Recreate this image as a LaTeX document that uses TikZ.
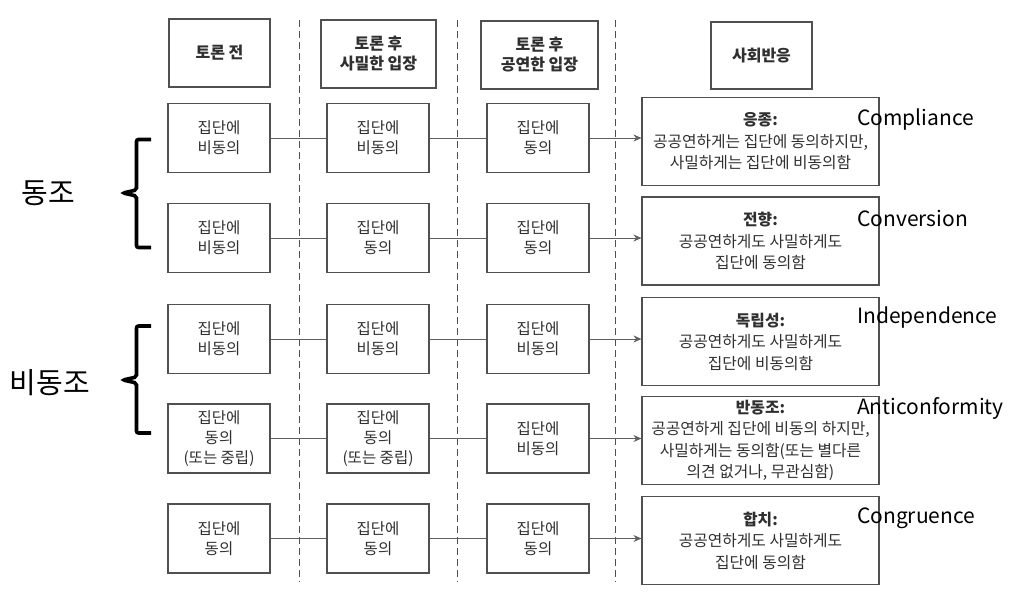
\documentclass[tikz,border=0pt]{standalone}
\usepackage{fontspec}
\setmainfont{Noto Sans CJK KR}
\usetikzlibrary{arrows.meta}
\definecolor{boxc}{HTML}{505050}
\definecolor{txt}{HTML}{303030}
\definecolor{linec}{HTML}{606060}
\begin{document}
\begin{tikzpicture}[x=1pt,y=-1pt,
  cell/.style={draw=boxc, line width=1.1pt, minimum width=102pt, minimum height=69pt,
    inner sep=0pt, align=center, text=txt, font=\fontsize{15.5}{20}\selectfont},
  head/.style={cell, font=\bfseries\fontsize{16}{20}\selectfont},
  resp/.style={draw=boxc, line width=1.1pt, minimum width=237pt, minimum height=88pt,
    inner sep=0pt, align=center, text=txt, font=\fontsize{15.8}{21.5}\selectfont},
  link/.style={draw=linec, line width=0.9pt},
  arrowlink/.style={link, -{Stealth[length=8pt,width=7pt]}},
  divider/.style={draw=boxc, line width=1pt, dash pattern=on 7pt off 4pt},
  eng/.style={anchor=west, font=\fontsize{21}{24}\selectfont, text=black, inner sep=0pt},
  grp/.style={font=\fontsize{29}{32}\selectfont, text=black, inner sep=0pt},
  brace/.style={draw=black, line width=3.6pt, rounded corners=2pt}
]
\useasboundingbox (0,0) rectangle (1011,592);
\fill[white] (0,0) rectangle (1011,592);

% dividers
\draw[divider] (299,20) -- (299,582);
\draw[divider] (457,20) -- (457,582);
\draw[divider] (615,20) -- (615,582);

% headers
\node[head, minimum width=101pt, minimum height=68pt] (h1) at (219.5,53) {토론 전};
\node[head, minimum width=115pt, minimum height=68pt] (h2) at (378.5,54) {토론 후\\사밀한 입장};
\node[head, minimum width=117pt, minimum height=68pt] (h3) at (539.5,55) {토론 후\\공연한 입장};
\node[head, minimum width=101pt, minimum height=67pt] (h4) at (761.5,55.5) {사회반응};

% row 1
\node[cell] (a1) at (219,138) {집단에\\비동의};
\node[cell] (b1) at (378,138) {집단에\\비동의};
\node[cell] (c1) at (538,138) {집단에\\동의};
\node[resp] (d1) at (760.5,141.5) {\textbf{응종:}\\공공연하게는 집단에 동의하지만,\\사밀하게는 집단에 비동의함};
% row 2
\node[cell] (a2) at (219,238) {집단에\\비동의};
\node[cell] (b2) at (378,238) {집단에\\동의};
\node[cell] (c2) at (538,238) {집단에\\동의};
\node[resp] (d2) at (760.5,241) {\textbf{전향:}\\공공연하게도 사밀하게도\\집단에 동의함};
% row 3
\node[cell] (a3) at (219,339) {집단에\\비동의};
\node[cell] (b3) at (378,339) {집단에\\비동의};
\node[cell] (c3) at (538,339) {집단에\\비동의};
\node[resp] (d3) at (760.5,341.5) {\textbf{독립성:}\\공공연하게도 사밀하게도\\집단에 비동의함};
% row 4
\node[cell] (a4) at (219,438.5) {집단에\\동의\\(또는 중립)};
\node[cell] (b4) at (378,438.5) {집단에\\동의\\(또는 중립)};
\node[cell] (c4) at (538,438.5) {집단에\\비동의};
\node[resp] (d4) at (760.5,440.5) {\textbf{반동조:}\\공공연하게 집단에 비동의 하지만,\\사밀하게는 동의함(또는 별다른\\의견 없거나, 무관심함)};
% row 5
\node[cell] (a5) at (219,538.5) {집단에\\동의};
\node[cell] (b5) at (378,538.5) {집단에\\동의};
\node[cell] (c5) at (538,538.5) {집단에\\동의};
\node[resp] (d5) at (760.5,540.5) {\textbf{합치:}\\공공연하게도 사밀하게도\\집단에 동의함};

% connectors
\foreach \i in {1,...,5}{
  \draw[link] (a\i.east) -- (b\i.west);
  \draw[link] (b\i.east) -- (c\i.west);
  \draw[arrowlink] (c\i.east) -- (c\i.east -| d\i.west);
}

% english labels
\node[eng] (e1) at (857,120) {Compliance};
\node[eng] (e2) at (857,218) {Conversion};
\node[eng] (e3) at (857,318) {Independence};
\node[eng] (e4) at (857,408) {Anticonformity};
\node[eng] (e5) at (857,518) {Congruence};

% group labels and braces
\node[grp] (g1) at (48,193) {동조};
\node[grp] (g2) at (50,383) {비동조};
\draw[brace] (151,139.5) -- (136.5,139.5) -- (136.5,190) -- (123,193) -- (136.5,196) -- (136.5,247.5) -- (151,247.5);
\draw[brace] (151,326) -- (136.5,326) -- (136.5,377) -- (123,380) -- (136.5,383) -- (136.5,433) -- (151,433);
\end{tikzpicture}
\end{document}
